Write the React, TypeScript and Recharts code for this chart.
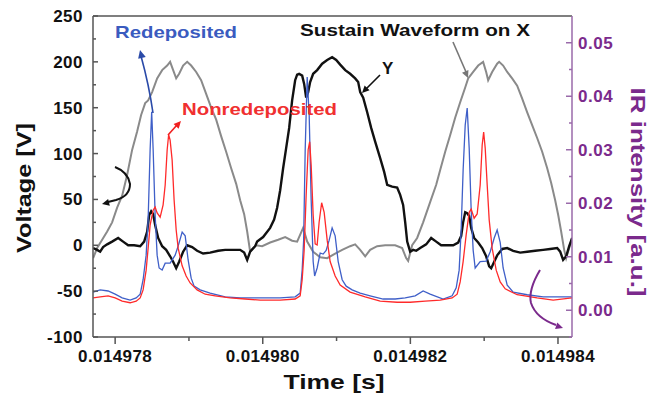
import React from "react";
import { LineChart, Line, XAxis, YAxis, ReferenceLine } from "recharts";

// ---- axis ticks ----
const xMajor = [0.014978, 0.01498, 0.014982, 0.014984];
const xMinor = [0.014979, 0.014981, 0.014983];
const vMajor = [-100, -50, 0, 50, 100, 150, 200, 250];
const vMinor = [-75, -25, 25, 75, 125, 175, 225];
const irMajor = [0, 0.01, 0.02, 0.03, 0.04, 0.05];
const irMinor = [-0.005, 0.005, 0.015, 0.025, 0.035, 0.045];

// ---- Sustain waveform on X (gray, voltage) ----
const xWaveTime = [
  0.014977702, 0.014977756, 0.014977824, 0.014977892, 0.014977959, 0.014978027, 0.014978095, 0.014978163,
  0.01497823, 0.014978298, 0.014978352, 0.014978407, 0.014978447, 0.014978501, 0.014978569, 0.014978637,
  0.014978705, 0.014978745, 0.014978786, 0.014978827, 0.014978867, 0.014978921, 0.014978976, 0.01497903,
  0.014979098, 0.014979165, 0.014979233, 0.014979301, 0.014979369, 0.014979436, 0.014979504, 0.014979572,
  0.01497964, 0.014979694, 0.014979748, 0.014979789, 0.014979829, 0.01497987, 0.014979911, 0.014979992,
  0.0149801, 0.014980209, 0.014980304, 0.014980398, 0.014980466, 0.014980547, 0.014980602, 0.014980683,
  0.014980778, 0.014980873, 0.014980981, 0.014981076, 0.014981184, 0.014981252, 0.01498132, 0.014981388,
  0.014981455, 0.01498155, 0.014981659, 0.014981794, 0.014981889, 0.014981943, 0.01498197, 0.014982024,
  0.014982092, 0.014982173, 0.014982268, 0.01498235, 0.014982404, 0.014982472, 0.014982539, 0.014982607,
  0.014982675, 0.014982743, 0.014982783, 0.014982851, 0.014982919, 0.014982986, 0.014983027, 0.014983054,
  0.014983108, 0.014983176, 0.014983203, 0.014983257, 0.014983312, 0.014983379, 0.014983447, 0.014983515,
  0.014983583, 0.01498365, 0.014983718, 0.014983786, 0.014983854, 0.014983908, 0.014983962, 0.014984003,
  0.014984043, 0.014984084, 0.014984111, 0.014984152, 0.014984192,
];
const xWaveVolt = [
  -14, -3, 6, 15, 25, 41, 54, 77,
  104, 124, 142, 155, 158, 167, 182, 191,
  196, 200, 191, 182, 187, 196, 200, 196,
  189, 180, 165, 150, 137, 119, 102, 84,
  67, 49, 34, 15, -7, -3, 0, -1,
  3, 6, 9, 5, 4, 19, 4, -7,
  -13, -14, -9, -5, -1, 1, -5, -12,
  -5, -1, 0, 0, -3, -14, -17, 0,
  8, 25, 47, 66, 82, 102, 120, 139,
  156, 172, 182, 189, 196, 200, 189, 180,
  189, 198, 200, 196, 189, 182, 174, 160,
  145, 131, 117, 102, 84, 68, 49, 33,
  15, -5, -14, -3, 8,
];

// ---- Y waveform (black, voltage) ----
const yWaveTime = [
  0.014977702, 0.014977756, 0.014977797, 0.014977837, 0.014977892, 0.014977959, 0.014978041, 0.014978108,
  0.014978176, 0.014978257, 0.014978339, 0.014978393, 0.014978434, 0.014978461, 0.014978488, 0.014978515,
  0.014978542, 0.014978583, 0.014978637, 0.014978691, 0.014978745, 0.014978786, 0.014978827, 0.014978867,
  0.014978921, 0.014978976, 0.014979043, 0.014979111, 0.014979192, 0.014979287, 0.014979396, 0.014979491,
  0.014979599, 0.014979694, 0.014979748, 0.014979789, 0.014979829, 0.014979897, 0.014979924, 0.014980005,
  0.0149801, 0.014980154, 0.014980195, 0.014980236, 0.014980276, 0.014980317, 0.014980358, 0.014980398,
  0.014980439, 0.014980466, 0.014980493, 0.014980534, 0.014980561, 0.014980588, 0.014980615, 0.014980642,
  0.014980683, 0.014980737, 0.014980805, 0.014980873, 0.01498094, 0.014980995, 0.014981049, 0.014981117,
  0.014981184, 0.014981252, 0.014981293, 0.01498132, 0.014981361, 0.014981415, 0.014981469, 0.014981523,
  0.014981591, 0.014981645, 0.014981686, 0.014981753, 0.014981821, 0.014981862, 0.014981902, 0.01498193,
  0.014981957, 0.014981997, 0.014982038, 0.014982079, 0.014982133, 0.014982214, 0.014982282, 0.01498235,
  0.014982417, 0.014982499, 0.01498258, 0.014982648, 0.014982688, 0.014982715, 0.014982743, 0.01498277,
  0.014982797, 0.014982824, 0.014982864, 0.014982919, 0.014982973, 0.014983027, 0.014983068, 0.014983095,
  0.014983136, 0.014983176, 0.014983244, 0.014983312, 0.014983393, 0.014983488, 0.014983583, 0.014983691,
  0.014983799, 0.014983894, 0.014983989, 0.01498403, 0.01498407, 0.014984111, 0.014984152, 0.014984192,
];
const yWaveVolt = [
  -3, -5, -7, -2, 1, 4, 8, 4,
  0, 0, -1, 4, 15, 33, 37, 34,
  22, 8, -1, -5, -12, -18, -25, -18,
  -7, 0, -2, -6, -9, -8, -6, -5,
  -5, -5, -8, -16, -7, -1, 4, 9,
  19, 28, 41, 60, 84, 106, 128, 158,
  180, 186, 187, 185, 176, 161, 167, 178,
  187, 191, 198, 202, 205, 202, 197, 191,
  187, 182, 178, 167, 161, 145, 128, 113,
  95, 80, 66, 64, 63, 55, 44, 25,
  4, -7, -5, -6, -3, 1, 8, 4,
  0, 0, 0, 3, 10, 25, 36, 35,
  32, 19, 8, 3, -3, -12, -23, -25,
  -18, -11, -4, -3, -6, -8, -7, -6,
  -5, -4, -3, -7, -16, -12, -1, 8,
];

// ---- Redeposited IR (blue, right axis) ----
const redepTime = [
  0.014977702, 0.014977797, 0.014977905, 0.014978, 0.014978095, 0.014978203, 0.014978285, 0.014978339,
  0.014978379, 0.01497842, 0.014978447, 0.014978474, 0.014978495, 0.014978515, 0.014978542, 0.014978569,
  0.014978596, 0.014978637, 0.014978678, 0.014978745, 0.014978813, 0.014978854, 0.014978908, 0.014978949,
  0.014978989, 0.01497903, 0.01497907, 0.014979152, 0.014979287, 0.014979491, 0.014979694, 0.014979965,
  0.014980236, 0.014980439, 0.014980507, 0.014980534, 0.014980554, 0.014980575, 0.014980602, 0.014980629,
  0.014980656, 0.014980683, 0.014980703, 0.014980737, 0.014980778, 0.014980818, 0.014980859, 0.0149809,
  0.01498094, 0.014980981, 0.014981022, 0.014981076, 0.01498113, 0.014981211, 0.01498132, 0.014981455,
  0.014981631, 0.014981794, 0.01498193, 0.014982065, 0.014982173, 0.014982268, 0.014982444, 0.014982566,
  0.014982621, 0.014982661, 0.014982688, 0.014982715, 0.014982743, 0.01498277, 0.014982797, 0.014982824,
  0.014982851, 0.014982878, 0.014982946, 0.014983027, 0.014983081, 0.014983136, 0.014983176, 0.014983217,
  0.014983257, 0.014983312, 0.014983393, 0.014983583, 0.014983799, 0.01498403, 0.014984192,
];
const redepIR = [
  0.0034, 0.0038, 0.0036, 0.003, 0.0023, 0.0019, 0.0023, 0.003,
  0.0057, 0.0103, 0.0169, 0.03, 0.0371, 0.03, 0.0178, 0.0103,
  0.0079, 0.0075, 0.0088, 0.0088, 0.0103, 0.012, 0.0146, 0.0139,
  0.0094, 0.006, 0.0045, 0.0038, 0.0032, 0.0025, 0.0023, 0.0023,
  0.0023, 0.0025, 0.0032, 0.0075, 0.0131, 0.03, 0.0436, 0.0365,
  0.0206, 0.0091, 0.0064, 0.0079, 0.0107, 0.0105, 0.0112, 0.0131,
  0.0154, 0.0139, 0.0091, 0.0057, 0.0045, 0.0038, 0.0032, 0.0027,
  0.0021, 0.0021, 0.0023, 0.0027, 0.0036, 0.003, 0.0021, 0.0027,
  0.0042, 0.0075, 0.015, 0.0262, 0.0346, 0.0378, 0.0303, 0.0187,
  0.0112, 0.0079, 0.0091, 0.0092, 0.0109, 0.0135, 0.015, 0.0127,
  0.0079, 0.0047, 0.0034, 0.0029, 0.0025, 0.0025, 0.0025,
];

// ---- Nonredeposited IR (red, right axis) ----
const nonredepTime = [
  0.014977702, 0.014977797, 0.014977905, 0.014978, 0.014978095, 0.014978203, 0.014978285, 0.014978339,
  0.014978379, 0.01497842, 0.014978447, 0.014978474, 0.014978515, 0.014978542, 0.014978569, 0.01497861,
  0.01497865, 0.014978678, 0.014978705, 0.014978725, 0.014978745, 0.014978772, 0.014978799, 0.014978827,
  0.014978854, 0.014978908, 0.014978962, 0.014979016, 0.014979111, 0.01497922, 0.014979355, 0.014979558,
  0.014979762, 0.014979965, 0.014980236, 0.014980439, 0.014980507, 0.014980534, 0.014980561, 0.014980588,
  0.014980615, 0.014980636, 0.014980656, 0.014980683, 0.01498071, 0.014980737, 0.014980764, 0.014980798,
  0.014980832, 0.014980873, 0.014980913, 0.014980981, 0.014981049, 0.014981184, 0.014981388, 0.014981591,
  0.014981821, 0.014981997, 0.014982201, 0.014982404, 0.014982566, 0.014982634, 0.014982675, 0.014982715,
  0.014982756, 0.014982797, 0.014982824, 0.014982864, 0.014982905, 0.014982946, 0.014982973, 0.014982993,
  0.014983014, 0.014983041, 0.014983068, 0.014983108, 0.014983163, 0.014983217, 0.014983285, 0.014983447,
  0.014983718, 0.014983935, 0.014984192,
];
const nonredepIR = [
  0.0023, 0.0025, 0.0027, 0.0023, 0.0017, 0.0014, 0.0017, 0.0023,
  0.0038, 0.0075, 0.0116, 0.0159, 0.0187, 0.0193, 0.0182, 0.0174,
  0.0197, 0.0234, 0.03, 0.0328, 0.0318, 0.0281, 0.0206, 0.015,
  0.0116, 0.0083, 0.0064, 0.0051, 0.0038, 0.003, 0.0027, 0.0023,
  0.0021, 0.0019, 0.0019, 0.0021, 0.0027, 0.0057, 0.0112, 0.0215,
  0.03, 0.0315, 0.0271, 0.0178, 0.0124, 0.0122, 0.0165, 0.0201,
  0.0183, 0.0131, 0.0091, 0.0064, 0.0047, 0.0034, 0.0025, 0.0017,
  0.0015, 0.0015, 0.0017, 0.0019, 0.0023, 0.003, 0.0053, 0.0091,
  0.0141, 0.0183, 0.0189, 0.0172, 0.018, 0.0234, 0.0309, 0.0333,
  0.0303, 0.0234, 0.0169, 0.0116, 0.0075, 0.0053, 0.004, 0.0029,
  0.0023, 0.0019, 0.0023,
];

const toData = (ts: number[], vs: number[]) => ts.map((t, i) => ({ t, v: vs[i] }));
const grayData = toData(xWaveTime, xWaveVolt);
const blackData = toData(yWaveTime, yWaveVolt);
const blueData = toData(redepTime, redepIR);
const redData = toData(nonredepTime, nonredepIR);

const FONT = "Arial, 'Liberation Sans', sans-serif";
const PURPLE = "#7b2a8c";
const AXIS = "#555";

const XTick = (props: any) => {
  const { x, y, payload } = props;
  const major = xMajor.includes(payload.value);
  return (
    <g>
      <line x1={x} x2={x} y1={y} y2={y + (major ? 7 : 4)} stroke={AXIS} strokeWidth={1.5} />
      {major && (
        <text x={x} y={y + 25} textAnchor="middle" fontFamily={FONT} fontWeight="bold" fontSize={17} letterSpacing={0.4} fill="#111">
          {payload.value.toFixed(6)}
        </text>
      )}
    </g>
  );
};

const VTick = (props: any) => {
  const { x, y, payload } = props;
  const major = vMajor.includes(payload.value);
  return (
    <g>
      <line x1={x} x2={x + (major ? 5 : 3)} y1={y} y2={y} stroke={AXIS} strokeWidth={1.5} />
      {major && (
        <text x={x - 10} y={y + 6} textAnchor="end" fontFamily={FONT} fontWeight="bold" fontSize={17} letterSpacing={0.5} fill="#111">
          {payload.value}
        </text>
      )}
    </g>
  );
};

const IrTick = (props: any) => {
  const { x, y, payload } = props;
  const major = irMajor.includes(payload.value);
  return (
    <g>
      <line x1={x} x2={x - (major ? 6 : 3)} y1={y} y2={y} stroke="#9a6aaa" strokeWidth={1.5} />
      {major && (
        <text x={x + 6} y={y + 6} textAnchor="start" fontFamily={FONT} fontWeight="bold" fontSize={17} letterSpacing={0.5} fill={PURPLE}>
          {payload.value.toFixed(2)}
        </text>
      )}
    </g>
  );
};

const arrowHead = (x1: number, y1: number, x2: number, y2: number, size: number, color: string) => {
  const a = Math.atan2(y2 - y1, x2 - x1);
  const p1 = [x2 - size * Math.cos(a - 0.45), y2 - size * Math.sin(a - 0.45)];
  const p2 = [x2 - size * Math.cos(a + 0.45), y2 - size * Math.sin(a + 0.45)];
  return <polygon points={`${x2},${y2} ${p1[0]},${p1[1]} ${p2[0]},${p2[1]}`} fill={color} />;
};

export default function App() {
  return (
    <div style={{ position: "absolute", left: 0, top: 0, width: 651, height: 409, background: "#fff" }}>
      <LineChart width={651} height={409} data={grayData} margin={{ top: 16, right: 20, left: 23, bottom: 42 }}>
        <XAxis
          type="number"
          dataKey="t"
          domain={[0.0149777, 0.01498419]}
          allowDataOverflow
          ticks={[...xMajor, ...xMinor].sort((a, b) => a - b)}
          interval={0}
          height={30}
          tickSize={0}
          tickMargin={0}
          tickLine={false}
          tick={XTick}
          axisLine={{ stroke: AXIS, strokeWidth: 1.5 }}
        />
        <YAxis
          yAxisId="v"
          type="number"
          domain={[-100, 250]}
          allowDataOverflow
          ticks={[...vMajor, ...vMinor].sort((a, b) => a - b)}
          interval={0}
          width={70}
          tickSize={0}
          tickMargin={0}
          tickLine={false}
          tick={VTick}
          axisLine={{ stroke: AXIS, strokeWidth: 1.5 }}
        />
        <YAxis
          yAxisId="ir"
          orientation="right"
          type="number"
          domain={[-0.005, 0.055]}
          allowDataOverflow
          ticks={[...irMajor, ...irMinor].sort((a, b) => a - b)}
          interval={0}
          width={59}
          tickSize={0}
          tickMargin={0}
          tickLine={false}
          tick={IrTick}
          axisLine={{ stroke: "#9a6aaa", strokeWidth: 1.5 }}
        />
        <ReferenceLine yAxisId="v" y={250} stroke={AXIS} strokeWidth={1.5} ifOverflow="extendDomain" />
        <Line yAxisId="v" data={grayData} dataKey="v" stroke="#8a8a8a" strokeWidth={2} dot={false} isAnimationActive={false} />
        <Line yAxisId="v" data={blackData} dataKey="v" stroke="#111" strokeWidth={2.4} dot={false} isAnimationActive={false} />
        <Line yAxisId="ir" data={blueData} dataKey="v" stroke="#3f5fc8" strokeWidth={1.3} dot={false} isAnimationActive={false} />
        <Line yAxisId="ir" data={redData} dataKey="v" stroke="#ff2a2a" strokeWidth={1.3} dot={false} isAnimationActive={false} />
      </LineChart>
      <svg width={651} height={409} style={{ position: "absolute", left: 0, top: 0, pointerEvents: "none" }}>
        <g fontFamily={FONT} fontWeight="bold">
          <text x={115} y={38} fontSize={17} fill="#3a5bbf" textLength={122} lengthAdjust="spacingAndGlyphs">Redeposited</text>
          <text x={182} y={115} fontSize={17} fill="#f03030" textLength={155} lengthAdjust="spacingAndGlyphs">Nonredeposited</text>
          <text x={300} y={36} fontSize={17} fill="#111" textLength={230} lengthAdjust="spacingAndGlyphs">Sustain Waveform on X</text>
          <text x={382} y={74} fontSize={17} fill="#111">Y</text>
          <text x={334} y={389} fontSize={21} fill="#111" textAnchor="middle" textLength={101} lengthAdjust="spacingAndGlyphs">Time [s]</text>
          <text transform="translate(31,188) rotate(-90)" fontSize={21} fill="#111" textAnchor="middle" textLength={130} lengthAdjust="spacingAndGlyphs">Voltage [V]</text>
          <text transform="translate(631,192) rotate(90)" fontSize={21} fill={PURPLE} textAnchor="middle" textLength={209} lengthAdjust="spacingAndGlyphs">IR intensity [a.u.]</text>
        </g>
        {/* blue arrow */}
        <path d="M153,113 Q149,85 141,56" fill="none" stroke="#2a4aa8" strokeWidth={1.6} />
        {arrowHead(143, 62, 140, 50, 9, "#2a4aa8")}
        {/* red arrow */}
        <path d="M168,135 L177,125" fill="none" stroke="#f02020" strokeWidth={1.6} />
        {arrowHead(168, 135, 181, 121, 8, "#f02020")}
        {/* Y arrow */}
        <path d="M380,75 L366,89" fill="none" stroke="#111" strokeWidth={1.6} />
        {arrowHead(380, 75, 362, 93, 8, "#111")}
        {/* gray arrow */}
        <path d="M453,42 L466,72" fill="none" stroke="#777" strokeWidth={1.6} />
        {arrowHead(453, 42, 468, 78, 8, "#777")}
        {/* black curved arrow to left axis */}
        <path d="M115,167 Q128,172 130,184 Q130,196 116,200 L108,202" fill="none" stroke="#111" strokeWidth={2} />
        {arrowHead(114, 201, 102, 204, 8, "#111")}
        {/* purple curved arrow to right axis */}
        <path d="M540,270 Q528,290 531,303 Q536,318 556,325" fill="none" stroke={PURPLE} strokeWidth={2} />
        {arrowHead(548, 323, 563, 328, 8, PURPLE)}
      </svg>
    </div>
  );
}
